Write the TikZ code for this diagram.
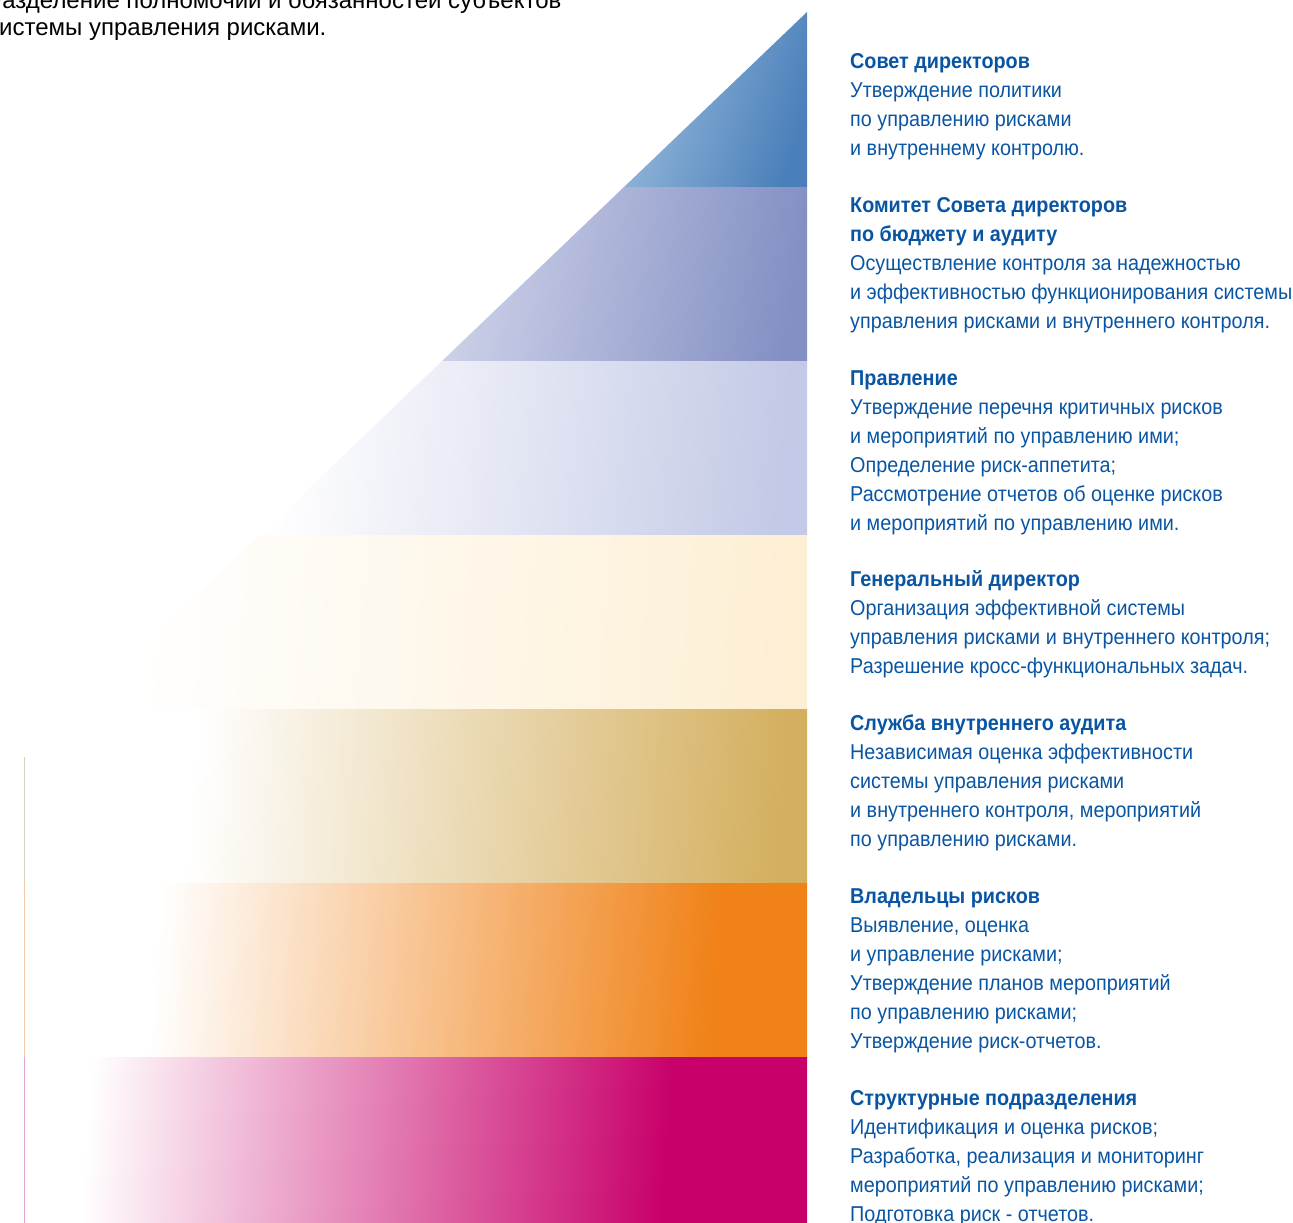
\documentclass[tikz,border=0pt]{standalone}
\usepackage{fontspec}
\setmainfont{Liberation Sans}
\newfontfamily\uzkij[FakeStretch=0.92]{Liberation Sans}
\usetikzlibrary{positioning}

\definecolor{tekst}{HTML}{0A55A3}
\definecolor{sovetA}{HTML}{98BBDC}
\definecolor{sovetB}{HTML}{4A7FBA}
\definecolor{komitetA}{HTML}{CDD1E8}
\definecolor{komitetB}{HTML}{8490C4}
\definecolor{pravlenie}{HTML}{C3C9E6}
\definecolor{gendir}{HTML}{FDEFD4}
\definecolor{audit}{HTML}{D4AF5F}
\definecolor{vladelcy}{HTML}{F08218}
\definecolor{podrazd}{HTML}{C8006A}

% horizontal shadings, the band's box lies between 25bp and 75bp
\pgfdeclarehorizontalshading{sovetsh}{100bp}{color(0bp)=(sovetA); color(25bp)=(sovetA); color(75bp)=(sovetB); color(100bp)=(sovetB)}
\pgfdeclarehorizontalshading{komitetsh}{100bp}{color(0bp)=(komitetA); color(25bp)=(komitetA); color(75bp)=(komitetB); color(100bp)=(komitetB)}
\pgfdeclarehorizontalshading{pravleniesh}{100bp}{color(0bp)=(white); color(25bp)=(white); color(75bp)=(pravlenie); color(100bp)=(pravlenie)}
\pgfdeclarehorizontalshading{gendirsh}{100bp}{color(0bp)=(white); color(28bp)=(white); color(75bp)=(gendir); color(100bp)=(gendir)}
\pgfdeclarehorizontalshading{auditsh}{100bp}{color(0bp)=(white); color(36bp)=(white); color(75bp)=(audit); color(100bp)=(audit)}
\pgfdeclarehorizontalshading{vladelcysh}{100bp}{color(0bp)=(white); color(33.5bp)=(white); color(70.5bp)=(vladelcy); color(100bp)=(vladelcy)}
\pgfdeclarehorizontalshading{podrazdsh}{100bp}{color(0bp)=(white); color(29bp)=(white); color(67.5bp)=(podrazd); color(100bp)=(podrazd)}

\tikzset{
  opis/.style={anchor=north west, inner sep=0pt, align=left, text=tekst,
    font=\uzkij\fontsize{21.5}{29}\selectfont},
  zagolovok/.style={anchor=north west, inner sep=0pt, align=left, text=black,
    font=\fontsize{24}{27}\selectfont}
}

\begin{document}
\begin{tikzpicture}[x=1pt,y=-1pt]
  \useasboundingbox (0,0) rectangle (1293,1223);

  % pyramid bands
  \shade[shading=sovetsh,shading angle=-18] (807,12) -- (807,187) -- (624,187) -- cycle;
  \shade[shading=komitetsh,shading angle=-9.5] (624,187) -- (807,187) -- (807,361) -- (442,361) -- cycle;
  \shade[shading=pravleniesh,shading angle=-6.4] (442,361) -- (807,361) -- (807,535) -- (260,535) -- cycle;
  \shade[shading=gendirsh,shading angle=-4.8] (260,535) -- (807,535) -- (807,709) -- (78,709) -- cycle;
  \shade[shading=auditsh,shading angle=-4.5] (78,709) -- (807,709) -- (807,883) -- (0,883) -- (0,783.5) -- cycle;
  \shade[shading=vladelcysh,shading angle=-4.5] (0,883) rectangle (807,1057);
  \shade[shading=podrazdsh,shading angle=-4.5] (0,1057) rectangle (807,1223);

  % thin rule at the left
  \draw[line width=1pt,color={rgb,255:red,217;green,210;blue,190}] (24.5,757) -- (24.5,883);
  \draw[line width=1pt,color={rgb,255:red,242;green,201;blue,166}] (24.5,883) -- (24.5,1057);
  \draw[line width=1pt,color={rgb,255:red,227;green,163;blue,207}] (24.5,1057) -- (24.5,1223);

  % title, cut by the page edge
  \node[zagolovok] (nazvanie) at (-13,-10.5)
    {\strut Разделение полномочий и обязанностей субъектов\\
     системы управления рисками.};

  % descriptions
  \node[opis] (sovet) at (850,47.5)
    {\strut\textbf{Совет директоров}\\
     Утверждение политики\\
     по управлению рисками\\
     и внутреннему контролю.};
  \node[opis] (komitet) at (850,191.5)
    {\strut\textbf{Комитет Совета директоров}\\
     \textbf{по бюджету и аудиту}\\
     Осуществление контроля за надежностью\\
     и эффективностью функционирования системы\\
     управления рисками и внутреннего контроля.};
  \node[opis] (pravl) at (850,364.5)
    {\strut\textbf{Правление}\\
     Утверждение перечня критичных рисков\\
     и мероприятий по управлению ими;\\
     Определение риск-аппетита;\\
     Рассмотрение отчетов об оценке рисков\\
     и мероприятий по управлению ими.};
  \node[opis] (direktor) at (850,565.5)
    {\strut\textbf{Генеральный директор}\\
     Организация эффективной системы\\
     управления рисками и внутреннего контроля;\\
     Разрешение кросс-функциональных задач.};
  \node[opis] (sluzhba) at (850,709.5)
    {\strut\textbf{Служба внутреннего аудита}\\
     Независимая оценка эффективности\\
     системы управления рисками\\
     и внутреннего контроля, мероприятий\\
     по управлению рисками.};
  \node[opis] (vladel) at (850,882.5)
    {\strut\textbf{Владельцы рисков}\\
     Выявление, оценка\\
     и управление рисками;\\
     Утверждение планов мероприятий\\
     по управлению рисками;\\
     Утверждение риск-отчетов.};
  \node[opis] (struktur) at (850,1084.5)
    {\strut\textbf{Структурные подразделения}\\
     Идентификация и оценка рисков;\\
     Разработка, реализация и мониторинг\\
     мероприятий по управлению рисками;\\
     Подготовка риск - отчетов.};
\end{tikzpicture}
\end{document}
